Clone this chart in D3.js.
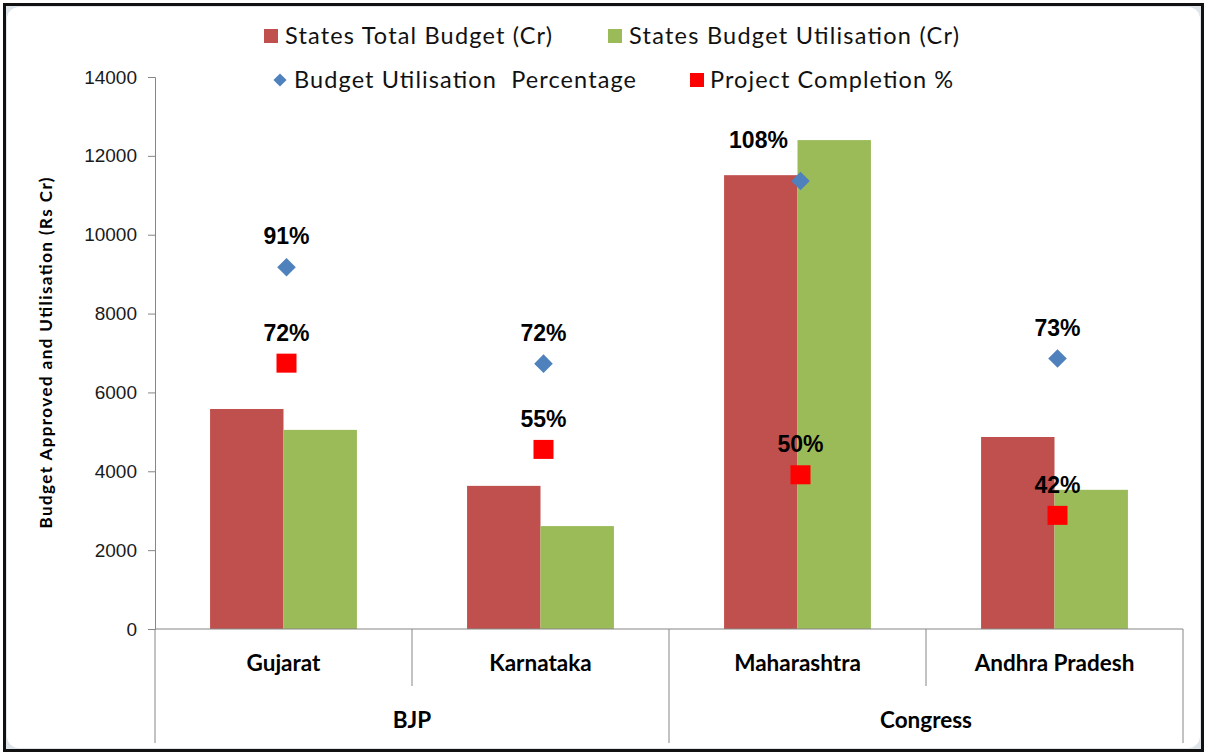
<!DOCTYPE html>
<html>
<head>
<meta charset="utf-8">
<script src="https://cdn.jsdelivr.net/npm/d3@7"></script>
<style>
  html, body { margin: 0; padding: 0; background: #fff; }
  svg { display: block; font-family: Lato, "Open Sans", sans-serif; }
</style>
</head>
<body>
<div id="chart"></div>
<script>
// chart data
const states = ["Gujarat", "Karnataka", "Maharashtra", "Andhra Pradesh"];
const parties = ["BJP", "BJP", "Congress", "Congress"];
const totalBudget = [5580, 3630, 11510, 4870];
const budgetUsed = [5050, 2610, 12400, 3530];
const utilisationPct = [91, 72, 108, 73];
const completionPct = [72, 55, 50, 42];
const seriesNames = ["States Total Budget (Cr)", "States Budget Utilisation (Cr)",
  "Budget Utilisation  Percentage", "Project Completion %"];
const yTicks = [0, 2000, 4000, 6000, 8000, 10000, 12000, 14000];

const W = 1207, H = 754;
const plot = { left: 155, right: 1183, top: 77, bottom: 629 };
const colors = ["#C0504D", "#9BBB59", "#4F81BD", "#FF0000"];

const svg = d3.select("#chart").append("svg")
  .attr("width", W)
  .attr("height", H);

// chart frame
svg.append("rect")
  .attr("x", 4.5).attr("y", 4.5)
  .attr("width", W - 9).attr("height", H - 8)
  .attr("fill", "#dde5ea")
  .attr("stroke", "#111")
  .attr("stroke-width", 3);
svg.append("rect")
  .attr("x", 7).attr("y", 7)
  .attr("width", W - 14).attr("height", H - 13)
  .attr("rx", 12)
  .attr("fill", "#fff");

const x = d3.scaleBand()
  .domain(states)
  .range([plot.left, plot.right]);

const xInner = d3.scaleBand()
  .domain([0, 1])
  .range([0, x.bandwidth()])
  .paddingOuter(0.75);

const y = d3.scaleLinear()
  .domain([0, 14000])
  .range([plot.bottom, plot.top]);

// hidden secondary axis for the percentage markers
const yPct = d3.scaleLinear()
  .domain([19.7, 128.5])
  .range([plot.bottom, plot.top]);

// bars
const barData = states.map((s, i) => [
  { state: s, k: 0, value: totalBudget[i] },
  { state: s, k: 1, value: budgetUsed[i] }
]).flat();

svg.append("g")
  .selectAll("rect")
  .data(barData)
  .enter()
  .append("rect")
  .attr("x", d => x(d.state) + xInner(d.k))
  .attr("y", d => y(d.value))
  .attr("width", xInner.bandwidth())
  .attr("height", d => y(0) - y(d.value))
  .attr("fill", d => colors[d.k]);

// y axis
const yAxis = svg.append("g")
  .attr("transform", `translate(${plot.left},0)`)
  .call(d3.axisLeft(y).tickValues(yTicks).tickSize(7).tickPadding(11).tickFormat(d3.format("d")));
yAxis.select(".domain").attr("stroke", "#868686");
yAxis.selectAll(".tick line").attr("stroke", "#868686");
yAxis.selectAll(".tick text")
  .attr("fill", "#1a1a1a")
  .style("font-family", "'Liberation Sans', Arial, sans-serif")
  .style("font-size", "19px");

svg.append("text")
  .attr("transform", `translate(52,${(plot.top + plot.bottom) / 2}) rotate(-90)`)
  .attr("text-anchor", "middle")
  .attr("textLength", 351)
  .style("font-size", "17px")
  .style("font-weight", "bold")
  .attr("fill", "#000")
  .text("Budget Approved and Utilisation (Rs Cr)");

// x axis with two levels
const axisColor = "#868686";
svg.append("line")
  .attr("x1", plot.left).attr("x2", plot.right)
  .attr("y1", plot.bottom).attr("y2", plot.bottom)
  .attr("stroke", axisColor);

const boundaries = states.map(s => x(s)).concat([plot.right]);
svg.append("g")
  .selectAll("line")
  .data(boundaries)
  .enter()
  .append("line")
  .attr("x1", d => d).attr("x2", d => d)
  .attr("y1", plot.bottom)
  .attr("y2", (d, i) => (i === 0 || i === boundaries.length - 1 || parties[i] !== parties[i - 1]) ? 743 : 686)
  .attr("stroke", axisColor);

svg.append("g")
  .selectAll("text")
  .data(states)
  .enter()
  .append("text")
  .attr("x", d => x(d) + x.bandwidth() / 2)
  .attr("y", 671)
  .attr("text-anchor", "middle")
  .style("font-size", "22.5px")
  .style("font-weight", "bold")
  .text(d => d);

const groups = Array.from(d3.group(states.map((s, i) => ({ s, p: parties[i] })), d => d.p),
  ([p, arr]) => ({ p, x0: x(arr[0].s), x1: x(arr[arr.length - 1].s) + x.bandwidth() }));

svg.append("g")
  .selectAll("text")
  .data(groups)
  .enter()
  .append("text")
  .attr("x", d => (d.x0 + d.x1) / 2)
  .attr("y", 728)
  .attr("text-anchor", "middle")
  .style("font-size", "22.5px")
  .style("font-weight", "bold")
  .text(d => d.p);

// percentage markers
const cx = s => x(s) + x.bandwidth() / 2 + 3;
const labelNudge = { "Maharashtra": [-42, -10] };

svg.append("g")
  .selectAll("path")
  .data(states)
  .enter()
  .append("path")
  .attr("d", d3.symbol().type(d3.symbolDiamond2).size(220))
  .attr("transform", (d, i) => `translate(${cx(d)},${yPct(utilisationPct[i])})`)
  .attr("fill", colors[2]);

svg.append("g")
  .selectAll("rect")
  .data(states)
  .enter()
  .append("rect")
  .attr("x", d => cx(d) - 10)
  .attr("y", (d, i) => yPct(completionPct[i]) - 10)
  .attr("width", 20)
  .attr("height", 19)
  .attr("fill", colors[3]);

const labelStyle = sel => sel
  .attr("text-anchor", "middle")
  .style("font-family", "'Liberation Sans', Arial, sans-serif")
  .style("font-size", "23px")
  .style("font-weight", "bold")
  .attr("fill", "#000");

svg.append("g")
  .selectAll("text")
  .data(states)
  .enter()
  .append("text")
  .attr("x", d => cx(d) + (labelNudge[d] ? labelNudge[d][0] : 0))
  .attr("y", (d, i) => yPct(utilisationPct[i]) - 23 + (labelNudge[d] ? labelNudge[d][1] : 0))
  .call(labelStyle)
  .text((d, i) => utilisationPct[i] + "%");

svg.append("g")
  .selectAll("text")
  .data(states)
  .enter()
  .append("text")
  .attr("x", d => cx(d))
  .attr("y", (d, i) => yPct(completionPct[i]) - 23)
  .call(labelStyle)
  .text((d, i) => completionPct[i] + "%");

// legend
const legendPos = [[264, 36], [608, 36], [273, 80], [690, 80]];
const legendWidths = [267, 330, 342, 243];
const legend = svg.append("g")
  .selectAll("g")
  .data(seriesNames)
  .enter()
  .append("g")
  .attr("transform", (d, i) => `translate(${legendPos[i][0]},${legendPos[i][1]})`);

legend.each(function (d, i) {
  const g = d3.select(this);
  if (i === 2) {
    g.append("path")
      .attr("d", d3.symbol().type(d3.symbolDiamond2).size(110))
      .attr("transform", "translate(7,0)")
      .attr("fill", colors[i]);
  } else {
    g.append("rect")
      .attr("x", 0).attr("y", -7)
      .attr("width", 14).attr("height", 14)
      .attr("fill", colors[i]);
  }
  g.append("text")
    .attr("x", i === 3 ? 20 : 21)
    .attr("y", 0)
    .attr("dy", "0.36em")
    .attr("textLength", legendWidths[i])
    .style("white-space", "pre")
    .style("font-size", "23.5px")
    .attr("fill", "#111")
    .text(d);
});
</script>
</body>
</html>
